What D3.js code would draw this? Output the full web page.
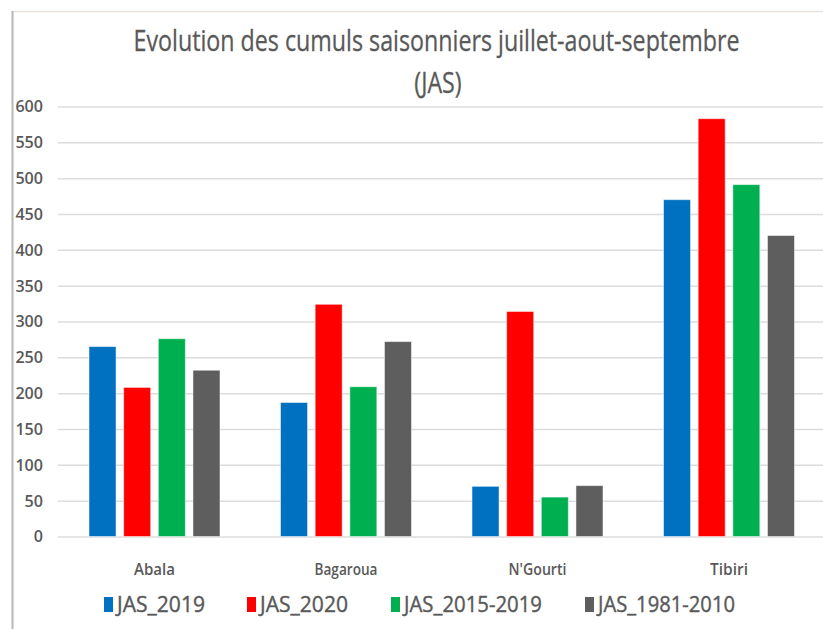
<!DOCTYPE html>
<html>
<head>
<meta charset="utf-8">
<script src="https://cdn.jsdelivr.net/npm/d3@7"></script>
<style>
  html, body { margin: 0; padding: 0; background: #fff; }
  svg { display: block; }
  text { font-family: "Open Sans", "Noto Sans", sans-serif; fill: #595959; }
</style>
</head>
<body>
<svg id="chart" width="823" height="629"></svg>
<script>
// ---- data ----
const categories = ["Abala", "Bagaroua", "N'Gourti", "Tibiri"];
const seriesNames = ["JAS_2019", "JAS_2020", "JAS_2015-2019", "JAS_1981-2010"];
const jas2019 = [265, 187, 70, 470];
const jas2020 = [208, 324, 314, 583];
const jas2015_2019 = [276, 209, 55, 491];
const jas1981_2010 = [232, 272, 71, 420];
const yTicks = [0, 50, 100, 150, 200, 250, 300, 350, 400, 450, 500, 550, 600];
const titleLines = ["Evolution des cumuls saisonniers juillet-aout-septembre", "(JAS)"];

const seriesValues = [jas2019, jas2020, jas2015_2019, jas1981_2010];
const colors = ["#0070C0", "#FF0000", "#00B050", "#5E5E5E"];

const svg = d3.select("#chart");

// frame (left and top border of the chart area)
svg.append("line").attr("x1", 12).attr("x2", 823).attr("y1", 11.5).attr("y2", 11.5)
  .attr("stroke", "#e6e2de").attr("stroke-width", 1.5);
svg.append("line").attr("x1", 12.5).attr("x2", 12.5).attr("y1", 11).attr("y2", 629)
  .attr("stroke", "#b8b8b8").attr("stroke-width", 2);

// scales
const x0 = d3.scaleBand().domain(categories).range([58.75, 824.75])
  .paddingInner(0.316).paddingOuter(0.158);
const x1 = d3.scaleBand().domain(seriesNames).range([0, x0.bandwidth()]).paddingInner(0.22);
const y = d3.scaleLinear().domain([0, 600]).range([536.5, 106.5]);
const color = d3.scaleOrdinal().domain(seriesNames).range(colors);

// y axis with gridlines
const yAxis = svg.append("g").attr("transform", "translate(58,0)")
  .call(d3.axisLeft(y).tickValues(yTicks).tickSize(-770).tickPadding(15));
yAxis.select(".domain").remove();
yAxis.selectAll(".tick line").attr("stroke", "#dcdcdc").attr("stroke-width", 1.5);
yAxis.selectAll(".tick text").attr("font-size", 17).attr("font-weight", 600).attr("fill", "#595959")
  .style("font-family", "'Open Sans', sans-serif")
  .attr("textLength", d => String(d).length * 9.2).attr("lengthAdjust", "spacingAndGlyphs");

// bars
const rows = categories.map((c, i) => ({ cat: c, vals: seriesNames.map((s, j) => ({ s, v: seriesValues[j][i] })) }));
const groups = svg.append("g").selectAll("g").data(rows).join("g")
  .attr("transform", d => `translate(${x0(d.cat)},0)`);
groups.selectAll("rect").data(d => d.vals).join("rect")
  .attr("x", d => x1(d.s))
  .attr("y", d => y(d.v))
  .attr("width", x1.bandwidth())
  .attr("height", d => y(0) - y(d.v))
  .attr("fill", d => color(d.s))
  .attr("stroke", "rgba(255,255,255,0.5)")
  .attr("stroke-width", 1);

// category axis
const xAxis = svg.append("g").attr("transform", `translate(0,${y(0)})`)
  .call(d3.axisBottom(x0).tickSize(0));
xAxis.select(".domain").remove();
const catWidths = { "Abala": 41, "Bagaroua": 63, "N'Gourti": 58, "Tibiri": 38 };
xAxis.selectAll(".tick text").attr("y", 38.5).attr("dy", 0)
  .attr("font-size", 17).attr("font-weight", 600).attr("fill", "#595959")
  .style("font-family", "'Open Sans', sans-serif")
  .attr("textLength", d => catWidths[d]).attr("lengthAdjust", "spacingAndGlyphs");

// title (condensed horizontally like the original narrow font)
svg.append("text").attr("text-anchor", "middle")
  .attr("transform", "translate(436.5,51) scale(0.775,1)")
  .attr("font-size", 30).attr("stroke", "#595959").attr("stroke-width", 0.3)
  .text(titleLines[0]);
svg.append("text").attr("text-anchor", "middle")
  .attr("transform", "translate(438,93) scale(0.8,1)")
  .attr("font-size", 29).attr("stroke", "#595959").attr("stroke-width", 0.3)
  .text(titleLines[1]);

// legend
const legendX = [104, 247, 391, 585];
const legendW = [88, 88, 138, 137];
const legend = svg.append("g").selectAll("g").data(seriesNames).join("g")
  .attr("transform", (d, i) => `translate(${legendX[i]},0)`);
legend.append("rect").attr("x", 0).attr("y", 597).attr("width", 9).attr("height", 15)
  .attr("fill", d => color(d));
legend.append("text").attr("x", 13).attr("y", 612)
  .attr("font-size", 22).attr("stroke", "#595959").attr("stroke-width", 0.4)
  .attr("textLength", (d, i) => legendW[i]).attr("lengthAdjust", "spacingAndGlyphs")
  .text(d => d);
</script>
</body>
</html>
